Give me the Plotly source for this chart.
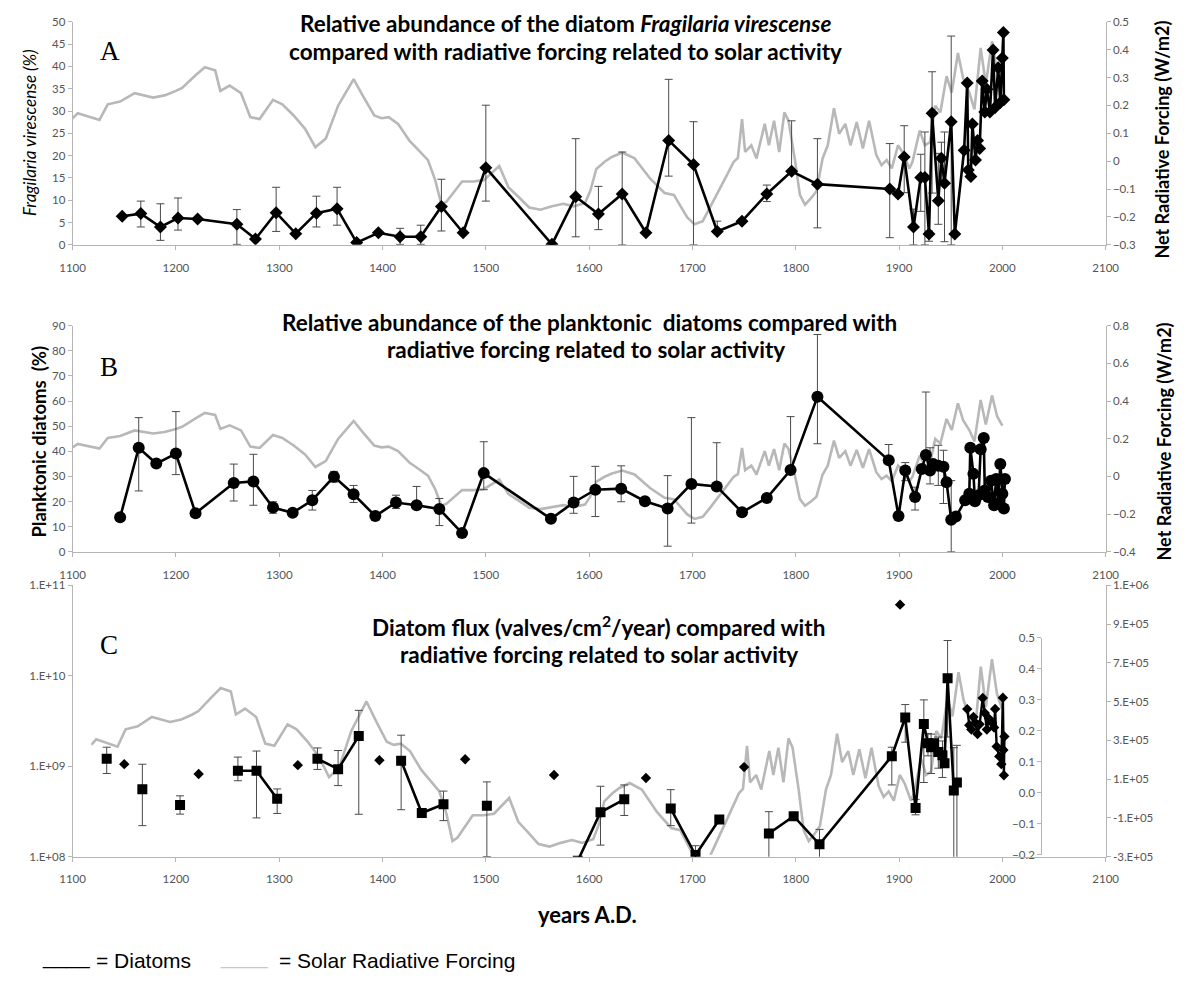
import plotly.graph_objects as go

W, H = 1191, 984
def fx(p):
    return p / W
def fy(p):
    return 1 - p / H

# ---------------- data ----------------
# Solar radiative forcing (W/m2)
solar_year = [1100,1105,1126,1134,1146,1160,1178,1189,1200,1206,1219,1228,1238,1243,1252,1263,1272,1281,1294,1303,
              1314,1325,1335,1345,1357,1372,1381,1392,1399,1406,1415,1426,1433,1444,1451,1457,1462,1477,1488,1498,
              1513,1522,1531,1542,1553,1564,1575,1585,1596,1601,1607,1615,1622,1632,1644,1659,1673,1682,1695,1702,
              1710,1717,1728,1735,1740,1744,1748,1751,1757,1762,1770,1774,1779,1784,1789,1793,1799,1804,1809,1815,
              1820,1826,1831,1837,1842,1848,1853,1859,1865,1871,1878,1883,1888,1893,1899,1904,1910,1913,1920,1925,
              1930,1935,1940,1946,1951,1957,1962,1968,1973,1979,1984,1990,1995,2000]
solar_forcing = [0.154,0.172,0.148,0.204,0.214,0.244,0.228,0.236,0.252,0.263,0.308,0.337,0.326,0.252,0.271,0.244,0.158,0.151,0.220,0.204,
                 0.164,0.116,0.050,0.081,0.199,0.294,0.234,0.164,0.154,0.158,0.134,0.074,0.047,0.004,-0.068,-0.156,-0.145,-0.073,-0.073,-0.068,
                 -0.017,-0.094,-0.126,-0.166,-0.174,-0.162,-0.153,-0.162,-0.150,-0.108,-0.028,-0.002,0.015,0.031,0.010,-0.062,-0.114,-0.121,-0.202,-0.226,
                 -0.215,-0.167,-0.086,-0.038,-0.002,0.012,0.151,0.033,0.057,0.010,0.134,0.057,0.145,0.033,0.175,0.145,0.010,-0.121,-0.156,-0.132,
                 -0.108,0.010,0.057,0.190,0.098,0.134,0.057,0.140,0.046,0.145,0.022,-0.014,0.004,-0.026,0.057,0.028,-0.026,-0.002,0.110,0.057,
                 0.068,0.199,0.175,0.305,0.246,0.388,0.298,0.246,0.186,0.406,0.276,0.430,0.318,0.270]

# Panel A: Fragilaria virescense (%)
a_year = [1148,1166,1185,1202,1221,1259,1277,1297,1316,1336,1356,1375,1396,1417,1437,1457,1478,1500,1564,1587,
          1609,1632,1655,1677,1701,1724,1748,1772,1796,1821,1891,1899,1905,1914,1921,1925,1929,1932,1938,1941,
          1944,1950.5,1954,1963,1966,1967,1969.5,1971,1974,1976,1978,1980.5,1983,1985,1988,1991,1993,1996,1998,2000,
          2001,2001.5]
a_pct = [6.4,7.0,4.0,6.0,5.8,4.6,1.3,7.2,2.5,7.1,8.1,0.5,2.7,1.8,1.8,8.6,2.7,17.3,0.1,10.8,
         6.9,11.4,2.7,23.4,18.0,3.0,5.3,11.4,16.5,13.6,12.5,11.4,19.7,4.0,15.1,15.1,2.4,29.5,9.9,19.4,
         13.8,27.6,2.4,21.2,36.3,16.8,15.3,27.1,19.0,23.4,21.6,36.7,29.8,34.9,29.8,43.7,30.8,39.7,31.9,41.9,
         47.6,32.5]
a_err_plus = [0,2.8,5.2,4.5,0,3.3,0,5.7,0,3.8,4.8,0,0,1.9,2.6,6.1,0,14.0,0,13.0,
              6.2,9.4,0,13.7,9.6,2.3,0.5,2.0,11.3,10.2,10.2,0,7.0,4.0,5.2,10.2,0.7,9.3,10.6,3.6,
              11.5,19.2,0,0,0,0,0,0,0,0,0,0,0,0,0,0,0,0,0,0,
              0,0]
a_err_minus = [0,3.0,3.0,2.7,0,4.5,0,4.2,0,3.1,3.7,0,0,1.7,1.7,5.5,0,7.5,0,9.0,
               3.5,11.4,0,8.0,18.0,0,0.5,1.7,0,9.8,10.9,0,8.0,4.0,7.6,15.1,1.6,17.9,5.3,5.0,
               13.1,27.6,0,0,0,0,0,0,0,0,0,0,0,0,0,0,0,0,0,0,
               0,0]

# Panel B: planktonic diatoms (%)
b_year = [1146,1164,1181,1200,1219,1256,1275,1294,1313,1332,1353,1372,1393,1413,1433,1455,1477,1498,1563,1585,
          1606,1631,1654,1676,1699,1723.5,1748,1772,1795,1821,1890,1899.5,1906,1915.5,1922,1926,1930,1933,1938,1943,
          1946,1950.5,1955,1964,1968,1969,1972,1973.5,1977,1979,1982,1983,1986,1989,1992,1994,1996,1998,2000,2001.5,
          2002.5]
b_pct = [13.7,41.4,35.1,39.1,15.3,27.4,28.0,17.6,15.5,20.5,29.9,22.9,14.2,19.6,18.5,17.0,7.4,31.3,13.1,19.6,
         24.7,25.1,20.1,17.2,27.0,26.0,15.7,21.4,32.5,61.7,36.4,14.2,32.3,21.8,32.9,38.5,32.3,34.9,34.2,33.8,
         27.7,12.7,14.0,20.5,23.1,41.4,31.0,20.1,22.5,40.8,45.3,24.4,21.8,28.3,18.5,29.0,19.2,34.9,23.1,17.2,
         29.0]
b_err_plus = [0,12.0,0,16.7,0,7.5,10.8,2.3,0,3.9,2.1,3.5,0,2.9,7.5,4.2,0,12.5,0,10.4,
              9.3,9.1,0,13.1,26.4,17.4,0,0,21.3,24.8,6.3,0,3.2,3.9,0,25.1,9.1,0,8.2,6.6,
              0,15.6,0,0,0,0,0,0,0,0,0,0,0,0,0,0,0,0,0,0,
              0]
b_err_minus = [0,17.2,0,8.4,0,7.2,9.5,2.3,0,3.9,2.2,3.3,0,2.4,0,6.6,0,6.6,0,4.3,
               10.7,5.2,0,15.0,15.6,0,0,0,0,18.7,0,0,4.0,5.2,0,0,5.3,0,7.8,14.6,
               0,12.7,0,0,0,0,0,0,0,0,0,0,0,0,0,0,0,0,0,0,
               0]

# Panel C: diatom flux (valves/cm2/year); None = break in the line
c_year = [1133,None,1167.5,None,1204,None,1260,1278,1298,None,1337,1357,1377,None,1418,1438,1459,None,1501,None,
          1589,1611,1634,None,1679,1703,1726,None,1774,1798,1823,1893,1906,1916,1924,1928,1931,1934,1938,1942,
          1944,1947,1953,1956]
c_flux = [1.21e9,None,5.56e8,None,3.72e8,None,8.9e8,8.9e8,4.36e8,None,1.21e9,9.27e8,2.15e9,None,1.15e9,3.04e8,3.8e8,None,3.66e8,None,
          9.0e7,3.09e8,4.3e8,None,3.4e8,1.04e8,2.57e8,None,1.8e8,2.8e8,1.37e8,1.29e9,3.45e9,3.44e8,2.92e9,1.79e9,1.62e9,1.79e9,1.43e9,1.32e9,
          1.08e9,9.4e9,5.37e8,6.6e8]
c_upper = [1.62e9,None,1.05e9,None,4.7e8,None,1.26e9,1.47e9,5.6e8,None,1.59e9,1.49e9,4.14e9,None,2.2e9,3.04e8,5.3e8,None,6.7e8,None,
           9.0e7,6.0e8,6.2e8,None,5.5e8,1.32e8,2.57e8,None,3.14e8,2.8e8,2.0e8,1.62e9,4.8e9,4.3e8,5.4e9,2.3e9,2.26e9,1.79e9,2.1e9,1.9e9,
           1.08e9,2.45e10,1.6e9,1.7e9]
c_lower = [8.3e8,None,2.2e8,None,2.95e8,None,6.9e8,2.68e8,3.0e8,None,9.2e8,6.1e8,2.94e8,None,3.3e8,3.04e8,2.5e8,None,1.0e8,None,
           9.0e7,1.34e8,2.85e8,None,2.2e8,9.0e7,2.57e8,None,9.5e7,2.8e8,9.5e7,6.2e8,1.84e9,2.9e8,6.6e8,1.3e9,8.3e8,1.79e9,9.5e8,7.5e8,
           1.08e9,2.1e9,9.5e7,9.5e7]

# Panel C: isolated diamonds and recent diamonds (outer right axis)
cd_year = [1150,1222,1318,1397,1480,1566,1655,1750,1901]
cd_value = [1.77e5,1.26e5,1.72e5,1.97e5,2.02e5,1.21e5,1.06e5,1.62e5,1.0e6]
ce_year = [1966,1968,1970,1972,1974,1976,1978,1981,1983,1985,1987,1990,1992,1993,1994.5,1997,1999,2000.5,2001,2001.5,2002]
ce_value = [4.61e5,3.78e5,3.56e5,4.20e5,3.90e5,3.33e5,3.83e5,5.18e5,4.41e5,3.56e5,4.12e5,3.90e5,3.66e5,4.62e5,2.68e5,2.17e5,1.77e5,5.2e5,2.5e5,1.2e5,3.2e5]

# tick labels
c_left_tickvals = [1e8, 1e9, 1e10, 1e11]
c_left_ticktext = ["1.E+08", "1.E+09", "1.E+10", "1.E+11"]
c_right_tickvals = [-3e5, -1e5, 1e5, 3e5, 5e5, 7e5, 9e5, 1.1e6]
c_right_ticktext = ["-3.E+05", "-1.E+05", "1.E+05", "3.E+05", "5.E+05", "7.E+05", "9.E+05", "1.E+06"]

# ---------------- styling ----------------
FONT = "Lato"
GRAY = "#b8b8b8"
AXC = "#b5b5b5"
TICKFONT = dict(family=FONT, size=11.5, color="#555555")
ERRC = "#4a4a4a"

def err(plus, minus):
    return dict(type="data", symmetric=False, array=plus, arrayminus=minus,
                color=ERRC, thickness=1, width=4)

c_plus = [(u - v) if (u is not None and v is not None) else 0 for u, v in zip(c_upper, c_flux)]
c_minus = [(v - l) if (l is not None and v is not None) else 0 for l, v in zip(c_lower, c_flux)]

fig = go.Figure()

# Panel A
fig.add_trace(go.Scatter(x=solar_year, y=solar_forcing, xaxis="x", yaxis="y", mode="lines",
                         line=dict(color=GRAY, width=2.6)))
fig.add_trace(go.Scatter(x=a_year, y=a_pct, xaxis="x", yaxis="y2", mode="lines+markers",
                         line=dict(color="black", width=2.6),
                         marker=dict(symbol="diamond", size=10, color="black"),
                         error_y=err(a_err_plus, a_err_minus)))
# Panel B
fig.add_trace(go.Scatter(x=solar_year, y=solar_forcing, xaxis="x2", yaxis="y3", mode="lines",
                         line=dict(color=GRAY, width=2.6)))
fig.add_trace(go.Scatter(x=b_year, y=b_pct, xaxis="x2", yaxis="y4", mode="lines+markers",
                         line=dict(color="black", width=2.6),
                         marker=dict(symbol="circle", size=12, color="black"),
                         error_y=err(b_err_plus, b_err_minus)))
# Panel C
fig.add_trace(go.Scatter(x=solar_year, y=solar_forcing, xaxis="x3", yaxis="y5", mode="lines",
                         line=dict(color=GRAY, width=2.6)))
fig.add_trace(go.Scatter(x=c_year, y=c_flux, xaxis="x4", yaxis="y6", mode="lines+markers",
                         connectgaps=False,
                         line=dict(color="black", width=2.6),
                         marker=dict(symbol="square", size=10, color="black"),
                         error_y=err(c_plus, c_minus)))
fig.add_trace(go.Scatter(x=cd_year, y=cd_value, xaxis="x4", yaxis="y7", mode="markers",
                         marker=dict(symbol="diamond", size=8, color="black")))
fig.add_trace(go.Scatter(x=ce_year, y=ce_value, xaxis="x4", yaxis="y7", mode="lines+markers",
                         line=dict(color="black", width=2.4),
                         marker=dict(symbol="diamond", size=8, color="black")))

def axis(**kw):
    d = dict(showline=True, linecolor=AXC, linewidth=1, ticks="outside", ticklen=4,
             tickcolor=AXC, showgrid=False, zeroline=False, tickfont=TICKFONT)
    d.update(kw)
    return d

XDOM = [fx(61), fx(1118)]
xcommon = dict(domain=XDOM, range=[1100, 2100], tick0=1100, dtick=100, ticklabelstandoff=8)

fig.update_layout(
    width=W, height=H, margin=dict(l=0, r=0, t=0, b=0),
    paper_bgcolor="white", plot_bgcolor="rgba(0,0,0,0)", showlegend=False,
    xaxis=axis(anchor="y", **xcommon),
    yaxis=axis(domain=[fy(241), fy(15)], range=[-0.3, 0.5], dtick=0.1, side="right", anchor="x"),
    yaxis2=axis(overlaying="y", range=[0, 50], dtick=5, side="left", anchor="x"),
    xaxis2=axis(anchor="y3", **xcommon),
    yaxis3=axis(domain=[fy(552), fy(323)], range=[-0.4, 0.8], dtick=0.2, side="right", anchor="x2"),
    yaxis4=axis(overlaying="y3", range=[0, 90], dtick=10, side="left", anchor="x2"),
    xaxis3=dict(domain=[fx(80), fx(1012)], range=[1100, 2000], anchor="y5", visible=False),
    yaxis5=axis(domain=[fy(859), fy(639)], range=[-0.2, 0.5], dtick=0.1, tickformat=".1f",
                anchor="free", position=fx(1052), side="left"),
    xaxis4=axis(anchor="y6", **xcommon),
    yaxis6=axis(domain=[fy(861), fy(586)], type="log", range=[8, 11],
                tickvals=c_left_tickvals, ticktext=c_left_ticktext, side="left", anchor="x4"),
    yaxis7=axis(overlaying="y6", range=[-3e5, 1.1e6], tickvals=c_right_tickvals,
                ticktext=c_right_ticktext, side="right", anchor="x4"),
)

def ann(x, y, text, size=18, family=FONT, color="black", angle=0, xanchor="center"):
    fig.add_annotation(x=fx(x), y=fy(y), xref="paper", yref="paper", text=text, showarrow=False,
                       xanchor=xanchor, yanchor="middle", textangle=angle, borderpad=0,
                       font=dict(family=family, size=size, color=color))

TS = 22.5
ann(565, 17, "<b>Relative abundance of the diatom <i>Fragilaria virescense</i></b>", TS)
ann(565, 45, "<b>compared with radiative forcing related to solar activity</b>", TS)
ann(590, 320, "<b>Relative abundance of the planktonic  diatoms compared with</b>", TS)
ann(586, 347, "<b>radiative forcing related to solar activity</b>", TS)
ann(599, 627, "<b>Diatom flux (valves/cm<sup>2</sup>/year) compared with</b>", TS)
ann(600, 656, "<b>radiative forcing related to solar activity</b>", TS)

ann(99, 45, "A", 27, "Liberation Serif")
ann(98, 365, "B", 27, "Liberation Serif")
ann(98, 647, "C", 27, "Liberation Serif")

ann(17, 128, "<i>Fragilaria virescense (%)</i>", 17, angle=-90)
ann(27, 440, "<b>Planktonic diatoms  (%)</b>", 18.5, angle=-90)
ann(1176, 134, "<b>Net Radiative Forcing (W/m2)</b>", 18, angle=-90)
ann(1178, 440, "<b>Net Radiative Forcing (W/m2)</b>", 18, angle=-90)
ann(588, 920, "<b>years A.D.</b>", 22)

LF = "Liberation Sans"
ann(29, 963, "____", 21, LF, "black", xanchor="left")
ann(84, 966, "= Diatoms", 21, LF, "black", xanchor="left")
ann(211, 963, "____", 21, LF, "#c8c8c8", xanchor="left")
ann(271, 966, "= Solar Radiative Forcing", 21, LF, "black", xanchor="left")

fig.write_html("out.html")
